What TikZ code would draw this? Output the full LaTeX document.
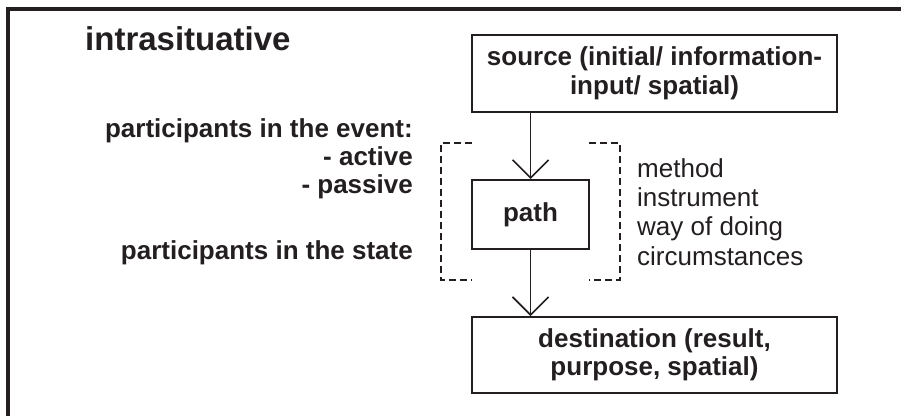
\documentclass[tikz,border=0pt]{standalone}
\usepackage{fontspec}
\setmainfont{Liberation Sans}
\usetikzlibrary{arrows.meta,positioning,calc}
\definecolor{ink}{HTML}{231F20}
\tikzset{
  sbox/.style={draw=ink, line width=2pt, inner sep=0pt, align=center, text=ink, font=\bfseries\fontsize{26}{28.5}\selectfont},
  lbl/.style={inner sep=0pt, text=ink, font=\bfseries\fontsize{26}{28}\selectfont},
  rlbl/.style={inner sep=0pt, align=left, text=ink, font=\fontsize{26}{29.3}\selectfont},
  flow/.style={draw=ink, line width=1.6pt, -{Straight Barb[length=18pt,width=36pt]}},
  brk/.style={draw=ink, line width=1.6pt, dash pattern=on 7pt off 4pt},
}

\begin{document}
\begin{tikzpicture}[x=1pt, y=-1pt]
  \useasboundingbox (0,0) rectangle (901,416);

  % --- Frame (open at right and bottom) ---
  \draw[ink, line width=4pt] (8,416) -- (8,9) -- (901,9);

  \node[inner sep=0pt, anchor=base west, text=ink, font=\bfseries\fontsize{33}{36}\selectfont] (title) at (85,50) {intrasituative};

  % --- Chain of boxes ---
  \node[sbox, minimum width=365pt, minimum height=77pt] (src) at (654.5,73.5) {source (initial/ information-\\input/ spatial)};
  \node[sbox, minimum width=117pt, minimum height=69pt] (mid) at (530.5,214.5) {path};
  \node[sbox, minimum width=365pt, minimum height=76pt] (dst) at (654.5,355) {destination (result,\\purpose, spatial)};

  \draw[flow] (src.south -| mid.north) -- (mid.north);
  \draw[flow] (mid.south) -- (mid.south |- dst.north);

  % Dashed brackets round the path
  \draw[brk] ($(mid.north west)+(1,-36)$) -- ++(-31,0) -- ++(0,137) -- ++(31,0);
  \draw[brk] ($(mid.north east)+(-1,-36)$) -- ++(31,0) -- ++(0,137) -- ++(-31,0);

  % --- Side labels (base = last line) ---
  \node[lbl, align=right, anchor=base east] (evt) at (413,193) {participants in the event:\\- active\\- passive};
  \node[lbl, anchor=base east] (state) at (413,259) {participants in the state};
  \node[rlbl, anchor=base west] (ways) at (637,265) {method\\instrument\\way of doing\\circumstances};
\end{tikzpicture}
\end{document}
